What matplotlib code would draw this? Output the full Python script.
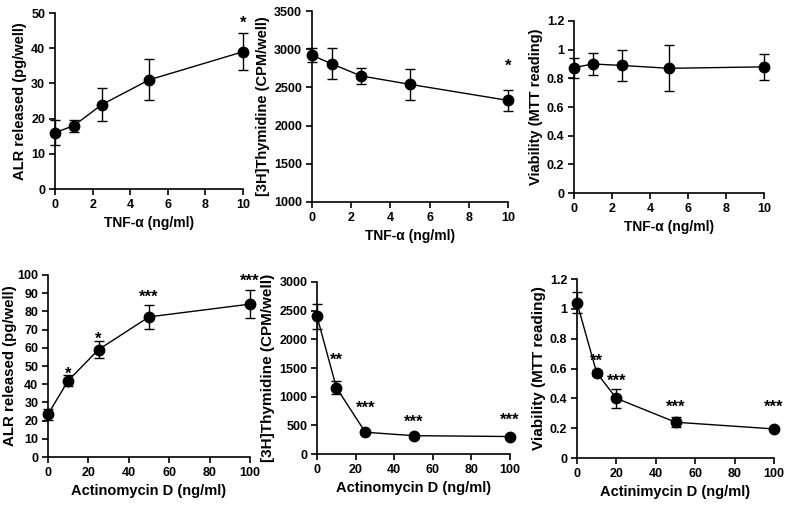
import numpy as np
import matplotlib
matplotlib.use("Agg")
from matplotlib import pyplot as plt

plt.rcParams['font.family'] = ['Liberation Sans', 'DejaVu Sans']
plt.rcParams['font.weight'] = 'bold'

# top row: TNF-alpha
tnf_dose = [0, 1, 2.5, 5, 10]
tnf_alr = [16, 18, 24, 31, 39]
tnf_alr_err = [3.5, 1.7, 4.7, 5.8, 5.2]
tnf_thy = [2920, 2810, 2650, 2540, 2330]
tnf_thy_err = [90, 200, 105, 200, 140]
tnf_via = [0.875, 0.90, 0.89, 0.87, 0.88]
tnf_via_err = [0.07, 0.08, 0.11, 0.16, 0.09]

# bottom row: actinomycin D
act_dose = [0, 10, 25, 50, 100]
act_alr = [23.5, 42, 59, 77, 84]
act_alr_err = [3, 3, 4.5, 6.5, 7.8]
act_thy = [2400, 1160, 380, 320, 305]
act_thy_err = [220, 110, 30, 30, 25]
act_dose_via = [0, 10, 20, 50, 100]
act_via = [1.04, 0.57, 0.40, 0.24, 0.195]
act_via_err = [0.07, 0.02, 0.065, 0.035, 0.01]

# significance marks and where they sit (data units)
tnf_alr_sig = ['', '', '', '', '*']
tnf_alr_sig_y = [0, 0, 0, 0, 47.2]
tnf_thy_sig = ['', '', '', '', '*']
tnf_thy_sig_y = [0, 0, 0, 0, 2784]
act_alr_sig = ['', '*', '*', '***', '***']
act_alr_sig_y = [0, 45.9, 65.1, 88.1, 96.9]
act_thy_sig = ['', '**', '***', '***', '***']
act_thy_sig_y = [0, 1643, 798, 553, 594]
act_via_sig = ['', '**', '***', '***', '***']
act_via_sig_y = [0, 0.653, 0.514, 0.340, 0.340]


def fmt(v, pos):
    return ('%g' % round(v, 2))


def panel(rect, x, y, err, xlim, xticks, ylim, yticks, xlabel, ylabel,
          sig=None, sig_y=None, xlabsize=10, ylabsize=10.5, ylabpad=3):
    ax = fig.add_axes(rect)
    ax.errorbar(x, y, yerr=err, color='black', lw=1, marker='o', ms=7.5,
                capsize=3.5, elinewidth=1, capthick=1, clip_on=False, zorder=3)
    ax.set_xlim(xlim)
    ax.set_ylim(ylim)
    ax.set_xticks(xticks)
    ax.set_yticks(yticks)
    ax.yaxis.set_major_formatter(matplotlib.ticker.FuncFormatter(fmt))
    for s in ['top', 'right']:
        ax.spines[s].set_visible(False)
    for s in ['left', 'bottom']:
        ax.spines[s].set_linewidth(1.2)
    ax.tick_params(direction='out', length=4, width=1.2, labelsize=9, pad=3)
    for lab in ax.get_xticklabels() + ax.get_yticklabels():
        lab.set_fontweight('bold')
    ax.set_xlabel(xlabel, fontsize=xlabsize, fontweight='bold', labelpad=4)
    ax.set_ylabel(ylabel, fontsize=ylabsize, fontweight='bold', labelpad=ylabpad)
    if sig:
        for xi, s, sy in zip(x, sig, sig_y):
            if s:
                ax.annotate(s, xy=(xi, sy), xytext=(0, -3.5),
                            textcoords='offset points', ha='center',
                            va='baseline', fontsize=12, fontweight='bold',
                            annotation_clip=False)
    return ax


fig = plt.figure(figsize=(7.91, 5.07), dpi=100)

panel([0.0695, 0.6272, 0.2377, 0.3471], tnf_dose, tnf_alr, tnf_alr_err,
      (0, 10), range(0, 11, 2), (0, 50), range(0, 51, 10),
      'TNF-α (ng/ml)', 'ALR released (pg/well)', tnf_alr_sig, tnf_alr_sig_y)
panel([0.3944, 0.6016, 0.2478, 0.3767], tnf_dose, tnf_thy, tnf_thy_err,
      (0, 10), range(0, 11, 2), (1000, 3500), range(1000, 3501, 500),
      'TNF-α (ng/ml)', '[3H]Thymidine (CPM/well)', tnf_thy_sig, tnf_thy_sig_y)
panel([0.7257, 0.6193, 0.2402, 0.3393], tnf_dose, tnf_via, tnf_via_err,
      (0, 10), range(0, 11, 2), (0, 1.2), np.arange(0, 1.21, 0.2),
      'TNF-α (ng/ml)', 'Viability (MTT reading)')

panel([0.0607, 0.0986, 0.2554, 0.3590], act_dose, act_alr, act_alr_err,
      (0, 100), range(0, 101, 20), (0, 100), range(0, 101, 10),
      'Actinomycin D (ng/ml)', 'ALR released (pg/well)', act_alr_sig,
      act_alr_sig_y, xlabsize=10.5, ylabsize=10.8, ylabpad=0.5)
panel([0.4008, 0.1045, 0.2440, 0.3393], act_dose, act_thy, act_thy_err,
      (0, 100), range(0, 101, 20), (0, 3000), range(0, 3001, 500),
      'Actinomycin D (ng/ml)', '[3H]Thymidine (CPM/well)', act_thy_sig,
      act_thy_sig_y, xlabsize=10.5, ylabsize=11)
panel([0.7295, 0.0966, 0.2491, 0.3531], act_dose_via, act_via, act_via_err,
      (0, 100), range(0, 101, 20), (0, 1.2), np.arange(0, 1.21, 0.2),
      'Actinimycin D (ng/ml)', 'Viability (MTT reading)', act_via_sig,
      act_via_sig_y, xlabsize=10.5, ylabsize=11)

fig.savefig('out.png', dpi=100)
